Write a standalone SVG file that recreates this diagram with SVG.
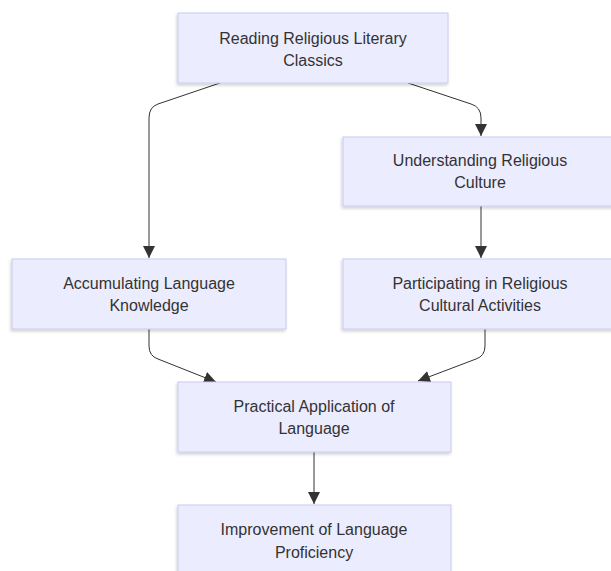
<svg xmlns="http://www.w3.org/2000/svg" width="611" height="571" viewBox="0 0 611 571">
<style>
.node rect{fill:#ECECFF;stroke:#c9c9f2;stroke-width:1;filter:url(#sh);}
.node text{font-family:"Liberation Sans",Arial,sans-serif;font-size:16px;fill:#333;text-anchor:middle;}
.edge{fill:none;stroke:#333;stroke-width:1;marker-end:url(#arr);}
</style>
<defs>
<filter id="sh" x="-10%" y="-10%" width="120%" height="130%">
<feDropShadow dx="-1" dy="2" stdDeviation="1.5" flood-color="#000" flood-opacity="0.18"/>
</filter>
<marker id="arr" viewBox="0 0 10 10" refX="10" refY="5" markerWidth="12" markerHeight="12" markerUnits="userSpaceOnUse" orient="auto">
<path d="M0,0 L10,5 L0,10 z" fill="#333"/>
</marker>
</defs>
<rect width="611" height="571" fill="#fff"/>
<g id="connectors">
<path class="edge" d="M220,83 L158,104 Q149,107 149,118 L149,258"/>
<path class="edge" d="M408,83 L471,104 Q481,107 481,118 L481,136"/>
<path class="edge" d="M481,206 L481,258"/>
<path class="edge" d="M149,329 L149,346 Q149,356 158,359 L216,382"/>
<path class="edge" d="M485,329 L485,346 Q485,356 476,359 L418,381"/>
<path class="edge" d="M314,452 L314,504"/>
</g>
<g id="n1" class="node"><rect x="178" y="13" width="270" height="70"/><text x="313" y="44">Reading Religious Literary</text><text x="313" y="66">Classics</text></g>
<g id="n2" class="node"><rect x="343" y="137" width="276" height="69"/><text x="480" y="166">Understanding Religious</text><text x="480" y="188">Culture</text></g>
<g id="n3" class="node"><rect x="343" y="259" width="276" height="70"/><text x="480" y="289">Participating in Religious</text><text x="480" y="311">Cultural Activities</text></g>
<g id="n4" class="node"><rect x="12" y="259" width="274" height="70"/><text x="149" y="289">Accumulating Language</text><text x="149" y="311">Knowledge</text></g>
<g id="n5" class="node"><rect x="178" y="382" width="273" height="70"/><text x="314" y="412">Practical Application of</text><text x="314" y="434">Language</text></g>
<g id="n6" class="node"><rect x="178" y="505" width="273" height="70"/><text x="314" y="535">Improvement of Language</text><text x="314" y="558">Proficiency</text></g>
</svg>
